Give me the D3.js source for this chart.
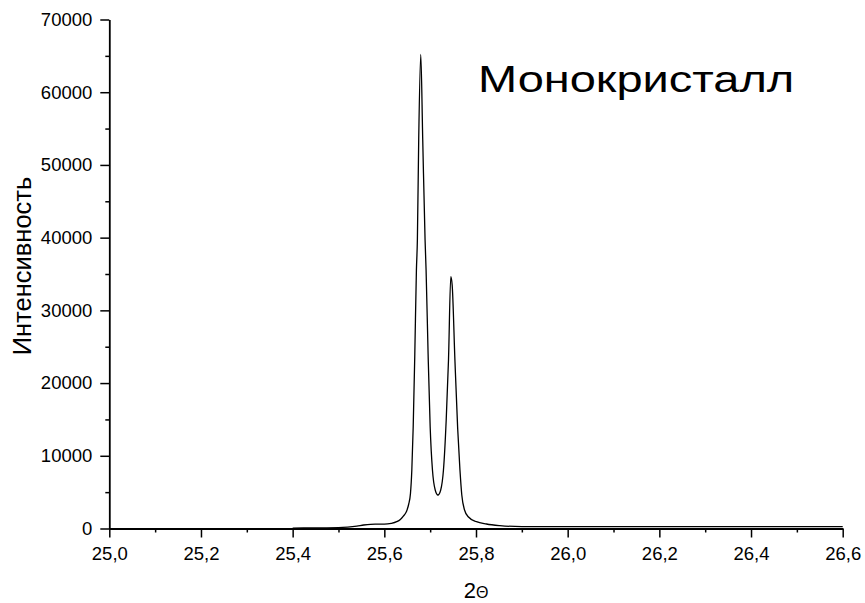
<!DOCTYPE html>
<html>
<head>
<meta charset="utf-8">
<script src="https://cdn.jsdelivr.net/npm/d3@7"></script>
<style>
  html, body { margin: 0; padding: 0; background: #fff; }
  svg { display: block; font-family: "Liberation Sans", Arial, sans-serif; }
</style>
</head>
<body>
<svg id="chart" width="865" height="603"></svg>
<script>
// Diffraction scan: 2Θ angle (degrees) and measured intensity
const theta = [
  25.40, 25.45, 25.50, 25.52, 25.54, 25.555, 25.57, 25.58, 25.60, 25.615, 25.627,
  25.635, 25.6415, 25.648, 25.653, 25.657, 25.660, 25.663, 25.6665, 25.670, 25.6721,
  25.675, 25.6795, 25.6838, 25.6889, 25.6911, 25.6955, 25.700, 25.705, 25.711, 25.717,
  25.723, 25.729, 25.735, 25.740, 25.745, 25.748, 25.754, 25.760, 25.765, 25.769,
  25.775, 25.783, 25.801, 25.823, 25.852, 25.90, 26.00, 26.10, 26.20, 26.30,
  26.40, 26.50, 26.60
];
const intensity = [
  60, 80, 110, 180, 320, 480, 580, 600, 590, 700, 935,
  1250, 1700, 2300, 3300, 4800, 8040, 14000, 24000, 35540, 39670,
  53420, 65200, 53420, 39670, 35540, 24000, 14000, 8040, 5300, 4610,
  5300, 8040, 14920, 23170, 34620, 33480, 23170, 13800, 8040, 4610,
  2540, 1620, 935, 620, 400, 260, 250, 250, 250, 250,
  250, 250, 250
];

const yTicks = [0, 10000, 20000, 30000, 40000, 50000, 60000, 70000];
const yMinorTicks = [5000, 15000, 25000, 35000, 45000, 55000, 65000];
const xTicks = [25.0, 25.2, 25.4, 25.6, 25.8, 26.0, 26.2, 26.4, 26.6];
const xMinorTicks = [25.1, 25.3, 25.5, 25.7, 25.9, 26.1, 26.3, 26.5];

const xTitle = "2";
const xTitleSymbol = "Θ";
const yTitle = "Интенсивность";
const sampleLabel = "Монокристалл";

const svg = d3.select("#chart");

const x = d3.scaleLinear().domain([25.0, 26.6]).range([109.3, 842.7]);
const y = d3.scaleLinear().domain([0, 70000]).range([528.5, 19.5]);

const fmtX = d => d.toFixed(1).replace(".", ",");

// minor ticks first, so the major axis draws over them
svg.append("g")
  .attr("transform", `translate(0,${y(0)})`)
  .call(d3.axisBottom(x).tickValues(xMinorTicks).tickSize(4).tickFormat(""))
  .call(g => g.select(".domain").remove())
  .call(g => g.selectAll("line").attr("stroke", "#000").attr("stroke-width", 1.5));

svg.append("g")
  .attr("transform", `translate(${x(25.0)},0)`)
  .call(d3.axisLeft(y).tickValues(yMinorTicks).tickSize(4).tickFormat(""))
  .call(g => g.select(".domain").remove())
  .call(g => g.selectAll("line").attr("stroke", "#000").attr("stroke-width", 1.5));

// x axis
const gx = svg.append("g")
  .attr("transform", `translate(0,${y(0)})`)
  .call(d3.axisBottom(x).tickValues(xTicks).tickFormat(fmtX).tickSize(9).tickSizeOuter(0).tickPadding(9));
gx.select(".domain").attr("stroke", "#000").attr("stroke-width", 1.8);
gx.selectAll(".tick line").attr("stroke", "#000").attr("stroke-width", 1.5);
gx.selectAll(".tick text").attr("font-size", 18.5).attr("fill", "#000")
  .attr("font-family", "Liberation Sans, Arial, sans-serif");

// y axis
const gy = svg.append("g")
  .attr("transform", `translate(${x(25.0)},0)`)
  .call(d3.axisLeft(y).tickValues(yTicks).tickFormat(d3.format("d")).tickSize(9).tickSizeOuter(0).tickPadding(8));
gy.select(".domain").attr("stroke", "#000").attr("stroke-width", 1.8);
gy.selectAll(".tick line").attr("stroke", "#000").attr("stroke-width", 1.5);
gy.selectAll(".tick text").attr("font-size", 18.5).attr("fill", "#000")
  .attr("font-family", "Liberation Sans, Arial, sans-serif");

// intensity curve
const line = d3.line()
  .x((d, i) => x(theta[i]))
  .y(d => y(d))
  .curve(d3.curveMonotoneX);

svg.append("path")
  .datum(intensity)
  .attr("fill", "none")
  .attr("stroke", "#000")
  .attr("stroke-width", 1.3)
  .attr("stroke-linejoin", "round")
  .attr("d", line);

// axis titles
const xt = svg.append("text")
  .attr("x", (x(25.0) + x(26.6)) / 2)
  .attr("y", 598)
  .attr("text-anchor", "middle")
  .attr("font-size", 22)
  .attr("fill", "#000");
xt.append("tspan").text(xTitle);
xt.append("tspan").attr("font-size", 16).text(xTitleSymbol);

svg.append("text")
  .attr("transform", `translate(31,266) rotate(-90)`)
  .attr("text-anchor", "middle")
  .attr("font-size", 25.5)
  .attr("fill", "#000")
  .text(yTitle);

// sample label, set in a horizontally widened face
svg.append("text")
  .attr("transform", "translate(478,92) scale(1.27,1)")
  .attr("font-size", 37)
  .attr("fill", "#000")
  .text(sampleLabel);
</script>
</body>
</html>
